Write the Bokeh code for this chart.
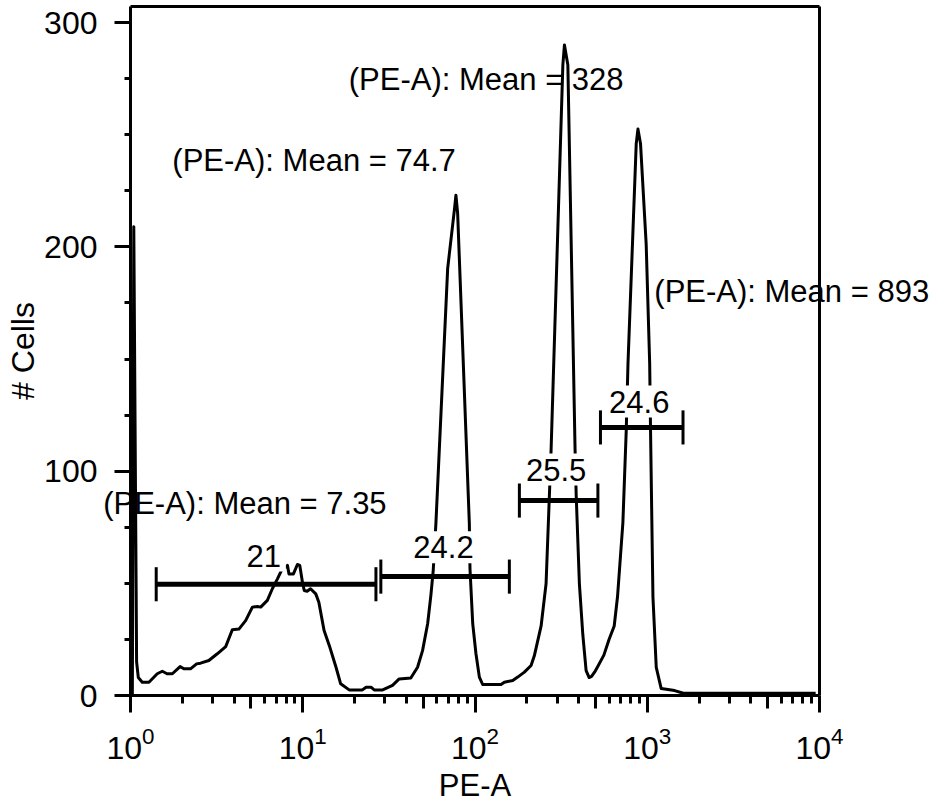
import math
from bokeh.plotting import figure
from bokeh.models import (Range1d, FixedTicker, SingleIntervalTicker, Label,
                          LinearAxis, LogAxis)
from bokeh.embed import file_html
from bokeh.resources import INLINE

# Histogram: PE-A intensity vs cell count
pe_a = [1.025, 1.045, 1.085, 1.11, 1.17, 1.28, 1.43, 1.53, 1.63, 1.75, 1.94, 2.04,
        2.23, 2.42, 2.55, 2.85, 3.19, 3.57, 3.90, 4.26, 4.66, 5.10, 5.45, 5.70,
        6.23, 6.66, 7.13, 7.55, 8.15, 8.32, 8.83, 9.31, 9.61, 9.96, 10.2, 10.6,
        11.1, 11.9, 12.4, 13.3, 14.3, 15.6, 16.6, 18.6, 22.2, 23.3, 24.9, 26.0,
        29.1, 33.2, 36.3, 42.4, 46.4, 49.6, 53.1, 55.5, 57.2, 59.3, 69.4, 75.8,
        77.5, 79.3, 92.7, 93.5, 97.0, 101.3, 106, 110.8, 141.6, 148, 165.6, 177,
        193.5, 211.6, 221, 242, 258.6, 270.5, 276.6, 323.6, 330.6, 346, 381,
        386.6, 403.6, 422.5, 441.7, 460, 475, 500, 517, 560, 600, 643, 672,
        722, 755, 773, 863, 883, 914, 986, 1033, 1045, 1079, 1128, 1205, 1442,
        1620, 2500, 4000, 6000, 9500]
cells = [0, 209, 15, 8, 5.9, 5.9, 9.7, 10.8, 9.7, 9.7, 12.9, 11.9,
         11.9, 14.1, 14.4, 15.6, 18.6, 21.8, 29.3, 29.6, 33.4, 39.4, 39.7, 39.4,
         42.4, 47.6, 52.0, 56, 58, 54.2, 54.2, 58.4, 58, 50.5, 46.8, 46.5,
         47.6, 45.3, 41.6, 29, 22, 12.6, 5.2, 2.5, 2.5, 3.7, 3.7, 2.5,
         2.5, 4.5, 7.4, 7.8, 12.6, 20, 32, 45, 55.7, 76.7, 190.4, 216,
         223, 214.9, 76.7, 56.6, 32, 18.6, 8.2, 4.9, 4.9, 5.9, 6.7, 8.2,
         10.4, 13.4, 17.7, 31, 49.9, 89.8, 109.7, 281, 290, 281, 109.7,
         89.8, 49.9, 27.2, 11.1, 8.0, 8.5, 11, 13, 18, 25, 31, 44,
         77, 118, 148, 246, 252.5, 246, 201, 148, 118, 44, 12.5, 3.1, 2.2,
         1, 1, 1, 1, 1]

# Gates
gate_pct = ["21", "24.2", "25.5", "24.6"]
gate_left = [1.41, 28.4, 181, 535]
gate_right = [26.6, 158.3, 517, 1613]
gate_y = [49.6, 53.0, 86.9, 119.5]
gate_label_x = [5.93, 65.6, 295.6, 898]
gate_label_y = [62.4, 66.1, 100.7, 131.0]

# Mean annotations
mean_values = ["7.35", "74.7", "328", "893"]
mean_label_x = [0.694, 1.75, 18.5, 1099]
mean_label_y = [85.6, 238.5, 274.6, 180.0]

x_major = [1, 10, 100, 1000, 10000]
x_minor = [m * d for d in [1, 10, 100, 1000] for m in range(2, 10)]
x_mid = [5 * d for d in [1, 10, 100, 1000]]
X_LO, X_HI = 1, 1e4
Y_LO, Y_HI = 0, 307.1

FONT = "Liberation Sans"
W, H = 936, 801
# Pixel layout of the axes box; the plotting frame fills the whole canvas and
# the axes are pinned at fixed data locations so nothing text-wise is clipped.
AX_LEFT, AX_RIGHT = 130, 819          # pixel x of 10^0 and 10^4
AX_BOTTOM, Y300_PX = 695, 22          # pixel y of 0 and of 300
px_per_dec = (AX_RIGHT - AX_LEFT) / math.log10(X_HI / X_LO)
px_per_unit = (AX_BOTTOM - Y300_PX) / 300.0
xr = Range1d(10 ** (-AX_LEFT / px_per_dec), 10 ** ((W - AX_LEFT) / px_per_dec))
yr = Range1d(-(H - AX_BOTTOM) / px_per_unit, AX_BOTTOM / px_per_unit)

p = figure(width=W, height=H, x_axis_type="log", x_range=xr, y_range=yr,
           output_backend="svg", toolbar_location=None,
           min_border_left=0, min_border_right=0,
           min_border_top=0, min_border_bottom=0)

p.grid.visible = False
p.outline_line_color = None
p.background_fill_color = "white"
p.border_fill_color = "white"

p.xaxis.ticker = FixedTicker(ticks=x_major, minor_ticks=x_minor)
p.yaxis.ticker = SingleIntervalTicker(interval=100, num_minor_ticks=4)
p.xaxis.bounds = (X_LO, X_HI)
p.yaxis.bounds = (Y_LO, Y_HI)
p.xaxis.fixed_location = Y_LO
p.yaxis.fixed_location = X_LO

LW = 3
for ax in (p.xaxis[0], p.yaxis[0]):
    ax.axis_line_width = LW
    ax.axis_line_color = "black"
    ax.major_tick_line_width = LW
    ax.minor_tick_line_width = LW
    ax.major_tick_line_color = "black"
    ax.minor_tick_line_color = "black"
    ax.major_tick_in = 0
    ax.minor_tick_in = 0
    ax.major_label_text_font = FONT
    ax.major_label_text_font_size = "32px"
    ax.major_label_text_color = "black"
    ax.axis_label_text_font = FONT
    ax.axis_label_text_font_style = "normal"
    ax.axis_label_text_color = "black"

p.xaxis.axis_label = "PE-A"
p.yaxis.axis_label = "# Cells"
p.xaxis.axis_label_text_font_size = "31px"
p.yaxis.axis_label_text_font_size = "32px"
p.xaxis.major_tick_out = 17
p.xaxis.minor_tick_out = 8
p.yaxis.major_tick_out = 16
p.yaxis.minor_tick_out = 6
p.xaxis.major_label_standoff = 14
p.xaxis.axis_label_standoff = 6
p.yaxis.major_label_standoff = 17
p.yaxis.axis_label_standoff = 0

# box: right and top edges, and the longer ticks at 5 x 10^n
right_edge = LinearAxis(fixed_location=X_HI, bounds=(Y_LO, Y_HI),
                        ticker=FixedTicker(ticks=[]),
                        axis_line_width=LW, axis_line_color="black",
                        major_label_text_color=None)
top_edge = LogAxis(fixed_location=Y_HI, bounds=(X_LO, X_HI),
                   ticker=FixedTicker(ticks=[]), axis_line_width=LW,
                   axis_line_color="black", major_label_text_color=None)
mid_ticks = LogAxis(fixed_location=Y_LO, bounds=(X_LO, X_HI),
                    ticker=FixedTicker(ticks=[], minor_ticks=x_mid),
                    axis_line_color=None, minor_tick_out=13, minor_tick_in=0,
                    minor_tick_line_width=LW, minor_tick_line_color="black",
                    major_label_text_color=None)
p.add_layout(right_edge, "right")
p.add_layout(top_edge, "above")
p.add_layout(mid_ticks, "below")

p.line(pe_a, cells, line_color="black", line_width=3, line_join="round")

tick_h = 7.6
p.segment(x0=gate_left, y0=gate_y, x1=gate_right, y1=gate_y,
          line_color="black", line_width=5, level="overlay")
p.segment(x0=gate_left, y0=[y - tick_h for y in gate_y], x1=gate_left,
          y1=[y + tick_h for y in gate_y], line_color="black", line_width=3,
          level="overlay")
p.segment(x0=gate_right, y0=[y - tick_h for y in gate_y], x1=gate_right,
          y1=[y + tick_h for y in gate_y], line_color="black", line_width=3,
          level="overlay")

for t, x, y in zip(gate_pct, gate_label_x, gate_label_y):
    p.add_layout(Label(x=x, y=y, text=t, text_align="center",
                       text_baseline="middle", text_font=FONT,
                       text_font_size="31px", text_color="black",
                       background_fill_color="white", background_fill_alpha=1.0,
                       padding=5))

for v, x, y in zip(mean_values, mean_label_x, mean_label_y):
    p.add_layout(Label(x=x, y=y, text="(PE-A): Mean = " + v, text_align="left",
                       text_baseline="middle", text_font=FONT,
                       text_font_size="31px", text_color="black"))

open("out.html", "w").write(file_html(p, INLINE))
